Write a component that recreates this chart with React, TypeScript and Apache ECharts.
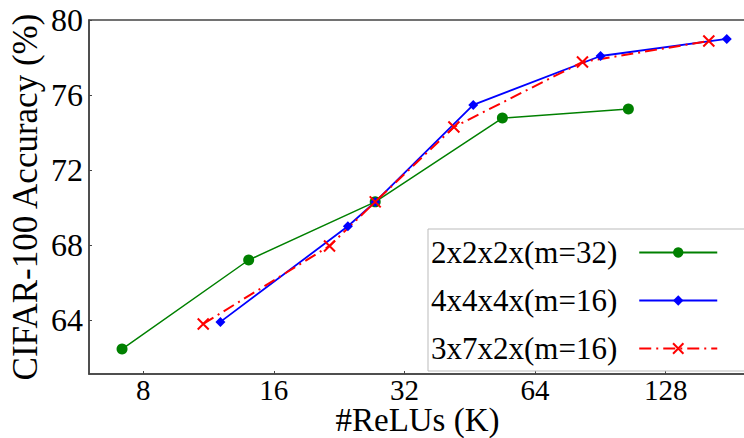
import React, { useEffect, useRef } from "react";
import * as echarts from "echarts";

const seriesNames = ["2x2x2x(m=32)", "4x4x4x(m=16)", "3x7x2x(m=16)"];
const greenX = [7.15, 14.0, 27.4, 53.8, 105];
const greenY = [62.45, 67.2, 70.3, 74.77, 75.25];
const blueX = [12.05, 23.7, 27.4, 46.1, 90.6, 177];
const blueY = [63.9, 69.0, 70.3, 75.47, 78.08, 78.99];
const redX = [11.0, 21.5, 27.4, 41.6, 82.3, 160.9];
const redY = [63.79, 67.95, 70.3, 74.29, 77.76, 78.88];
const yTicks = [64, 68, 72, 76, 80];

const FONT = "'Liberation Serif', 'Times New Roman', serif";

const zip = (xs: number[], ys: number[]) => xs.map((x, i) => [x, ys[i]]);

export default function App() {
  const ref = useRef<HTMLDivElement>(null);
  useEffect(() => {
    if (!ref.current) return;
    const chart = echarts.init(ref.current, undefined, { renderer: "svg" });
    chart.setOption({
      animation: false,
      backgroundColor: "#fff",
      grid: {
        left: 89,
        top: 20,
        right: -2,
        bottom: 64,
        containLabel: false,
        outerBoundsMode: "none",
        show: true,
        borderColor: "#444",
        borderWidth: 1.5,
        backgroundColor: "transparent",
      },
      xAxis: {
        type: "log",
        logBase: 2,
        min: 6,
        max: 196,
        name: "#ReLUs (K)",
        nameLocation: "middle",
        nameGap: 31,
        nameMoveOverlap: false,
        nameTextStyle: { fontFamily: FONT, fontSize: 33, lineHeight: 30, color: "#000" },
        axisLine: { show: true, lineStyle: { color: "#444", width: 1.5 } },
        axisTick: { show: true, inside: true, length: 3, lineStyle: { color: "#444" } },
        axisLabel: {
          showMinLabel: false,
          showMaxLabel: false,
          fontFamily: FONT,
          fontSize: 29,
          lineHeight: 26,
          color: "#000",
          margin: 3,
        },
        splitLine: { show: false },
      },
      yAxis: {
        type: "value",
        min: 61.12,
        max: 80,
        name: "CIFAR-100 Accuracy (%)",
        nameLocation: "middle",
        nameRotate: 90,
        nameGap: 46,
        nameMoveOverlap: false,
        nameTextStyle: { fontFamily: FONT, fontSize: 35, color: "#000" },
        axisLine: { show: true, lineStyle: { color: "#444", width: 1.5 } },
        axisTick: { show: true, inside: true, length: 3, customValues: yTicks, lineStyle: { color: "#444" } },
        axisLabel: {
          customValues: yTicks,
          fontFamily: FONT,
          fontSize: 32,
          color: "#000",
          margin: 6,
        },
        splitLine: { show: false },
      },
      legend: {
        orient: "vertical",
        left: 428,
        top: 229,
        align: "right",
        backgroundColor: "#fff",
        borderColor: "#bbb",
        borderWidth: 1,
        borderRadius: 0,
        padding: [8, 30, 7, 3],
        itemGap: 17,
        itemWidth: 78,
        itemHeight: 13,
        data: seriesNames,
        formatter: (name: string) => `{t|${name}}`,
        textStyle: {
          fontFamily: FONT,
          fontSize: 31,
          color: "#000",
          rich: {
            t: { fontFamily: FONT, fontSize: 31, color: "#000", lineHeight: 31, padding: [0, 17, 0, 0] },
          },
        },
      },
      series: [
        {
          name: seriesNames[0],
          type: "line",
          data: zip(greenX, greenY),
          symbol: "circle",
          symbolSize: 11,
          itemStyle: { color: "#008000", borderWidth: 0 },
          lineStyle: { color: "#008000", width: 1.5 },
        },
        {
          name: seriesNames[1],
          type: "line",
          data: zip(blueX, blueY),
          symbol: "diamond",
          symbolSize: 10,
          itemStyle: { color: "#0000ff", borderWidth: 0 },
          lineStyle: { color: "#0000ff", width: 1.8 },
        },
        {
          name: seriesNames[2],
          type: "line",
          data: zip(redX, redY),
          symbol: "path://M0,0L10,10M0,10L10,0",
          symbolSize: 11,
          itemStyle: { color: "#ff0000", borderColor: "#ff0000", borderWidth: 2 },
          lineStyle: { color: "#ff0000", width: 2, type: [12, 5, 2, 5] },
        },
      ],
    });
    return () => chart.dispose();
  }, []);
  return (
    <div
      ref={ref}
      style={{ position: "fixed", left: 0, top: 0, width: 744, height: 438 }}
    />
  );
}
